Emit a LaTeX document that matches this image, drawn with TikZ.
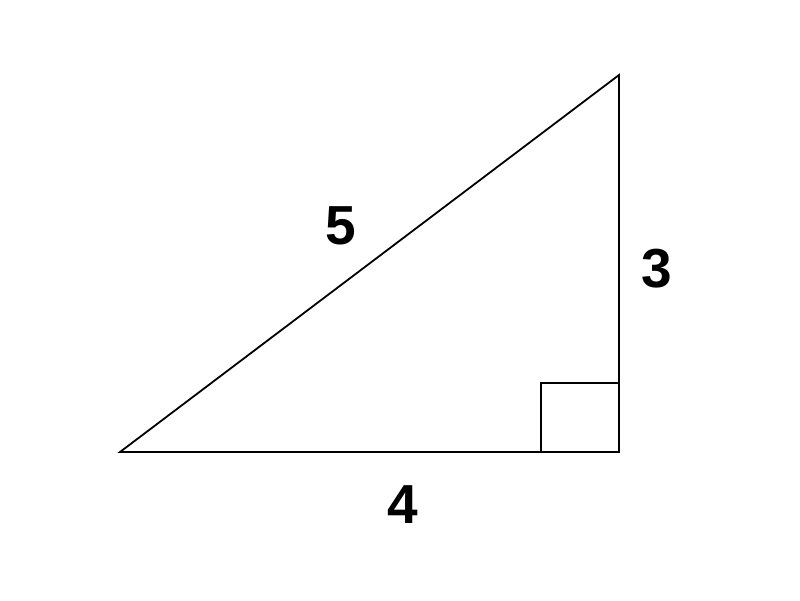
\documentclass[tikz,border=0pt]{standalone}
\usepackage{fontspec}
\setmainfont{Liberation Sans}
\begin{document}
\begin{tikzpicture}[x=1pt,y=-1pt,
  edge/.style={draw=black,line width=1.8pt},
  lbl/.style={font=\fontsize{55}{60}\selectfont\bfseries,inner sep=0pt}]
\useasboundingbox (0,0) rectangle (800,600);
\coordinate (A) at (120,452);
\coordinate (B) at (619,452);
\coordinate (C) at (619,75);
\draw[edge,line join=miter] (A) -- (B) -- (C) -- cycle;
\coordinate (S1) at (541,452);
\coordinate (S2) at (541,383);
\coordinate (S3) at (619,383);
\draw[edge] (S1) -- (S2) -- (S3);
\node[lbl] (five) at (341,226) {5};
\node[lbl] (three) at (657,269) {3};
\node[lbl] (four) at (403,505) {4};
\end{tikzpicture}
\end{document}
